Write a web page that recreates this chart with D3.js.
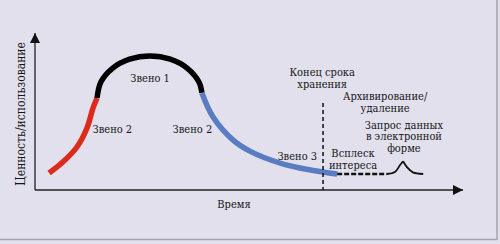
<!DOCTYPE html>
<html>
<head>
<meta charset="utf-8">
<script src="https://cdn.jsdelivr.net/npm/d3@7"></script>
<style>
  body { margin: 0; background: #fff; }
  text { font-family: "DejaVu Serif Condensed", "DejaVu Serif", serif; font-size: 11px; fill: #161616; }
</style>
</head>
<body>
<div id="chart"></div>
<script>
// Curve segments, time (0-100) vs value (0-100)
const growth = [[3.3, 10.8], [6.5, 17.8], [9.8, 27.4], [12.15, 39.5], [13.55, 52.2], [14.5, 58.6]];
const peak = [[14.5, 58.6], [15.4, 68.8], [18.1, 77.5], [22.1, 83.3], [26.9, 85.4], [31.6, 83.3], [35.6, 77.5], [38.3, 68.8], [39.0, 61.8]];
const decline = [[39.0, 61.8], [41.6, 46.5], [46.3, 31.8], [50.2, 24.8], [57.2, 17.2], [61.9, 14.0], [67.3, 11.5], [70.6, 10.2]];
const archive = [[70.6, 10.2], [82.2, 10.2]];
const spikeLeft = [[82.2, 10.2], [84.1, 11.5], [85.3, 15.9], [86.0, 18.3]];
const spikeRight = [[86.0, 18.3], [86.9, 14.6], [88.3, 11.2], [90.7, 10.2]];
const retentionEnd = 67.3;
const retentionTop = 55.4;

const labels = [
    { lines: ["Звено 1"], t: 26.9, v: 68.8 },
    { lines: ["Звено 2"], t: 22.7, v: 36.3, anchor: "end" },
    { lines: ["Звено 2"], t: 41.4, v: 36.3, anchor: "end" },
    { lines: ["Звено 3"], t: 65.9, v: 19.1, anchor: "end" },
    { lines: ["Конец срока", "хранения"], t: 67.1, v: 72.6 },
    { lines: ["Архивирование/", "удаление"], t: 81.8, v: 57.3 },
    { lines: ["Запрос данных", "в электронной", "форме"], t: 86.2, v: 38.9 },
    { lines: ["Всплеск", "интереса"], t: 74.3, v: 21.0 }
];

const W = 500, H = 244;
const margin = { top: 33, right: 37, bottom: 54, left: 35 },
    width = W - margin.left - margin.right,
    height = H - margin.top - margin.bottom;

const svg = d3.select("#chart")
    .append("svg")
    .attr("width", W)
    .attr("height", H);

// background panel with shadow edges
svg.append("rect")
    .attr("width", W).attr("height", H)
    .attr("fill", "#e1e0ec");
svg.append("line")
    .attr("x1", 0).attr("x2", 497).attr("y1", 239.5).attr("y2", 239.5)
    .attr("stroke", "#a5a4ad").attr("stroke-width", 1.5);
svg.append("line")
    .attr("x1", 497).attr("x2", 497).attr("y1", 0).attr("y2", 240)
    .attr("stroke", "#a5a4ad").attr("stroke-width", 1.5);

const g = svg.append("g")
    .attr("transform", "translate(" + margin.left + "," + margin.top + ")");

const x = d3.scaleLinear().domain([0, 100]).range([0, width]);
const y = d3.scaleLinear().domain([0, 100]).range([height, 0]);

// Axes with arrowheads
const defs = svg.append("defs");
defs.append("marker")
    .attr("id", "arrow")
    .attr("viewBox", "0 0 10 10")
    .attr("refX", 10).attr("refY", 5)
    .attr("markerWidth", 10).attr("markerHeight", 10)
    .attr("markerUnits", "userSpaceOnUse")
    .attr("orient", "auto")
    .append("path")
    .attr("d", "M0,0 L10,5 L0,10 Z")
    .attr("fill", "#111");

g.append("line")
    .attr("x1", 0).attr("y1", height).attr("x2", 0).attr("y2", 0)
    .attr("stroke", "#222").attr("stroke-width", 1.3)
    .attr("marker-end", "url(#arrow)");
g.append("line")
    .attr("x1", 0).attr("y1", height).attr("x2", width).attr("y2", height)
    .attr("stroke", "#222").attr("stroke-width", 1.3)
    .attr("marker-end", "url(#arrow)");

const line = d3.line()
    .x(d => x(d[0]))
    .y(d => y(d[1]))
    .curve(d3.curveCatmullRom);

// Colored life-cycle curve
const segs = [
    { data: growth, color: "#dc2a1b" },
    { data: peak, color: "#000" },
    { data: decline, color: "#5a7cc2" }
];
g.selectAll(".seg")
    .data(segs)
    .enter()
    .append("path")
    .attr("class", "seg")
    .attr("d", d => line(d.data))
    .attr("fill", "none")
    .attr("stroke", d => d.color)
    .attr("stroke-width", 5.5);

// End of retention marker
g.append("line")
    .attr("x1", x(retentionEnd)).attr("x2", x(retentionEnd))
    .attr("y1", y(retentionTop)).attr("y2", y(0))
    .attr("stroke", "#111").attr("stroke-width", 1.5)
    .attr("stroke-dasharray", "4,3");

// Archive dashed line and spike
g.append("path")
    .attr("d", d3.line().x(d => x(d[0])).y(d => y(d[1]))(archive))
    .attr("fill", "none")
    .attr("stroke", "#111").attr("stroke-width", 2.4)
    .attr("stroke-dasharray", "5,2");
[spikeLeft, spikeRight].forEach(s => {
    g.append("path")
        .attr("d", line(s))
        .attr("fill", "none")
        .attr("stroke", "#111").attr("stroke-width", 1.8);
});

// Annotations
const lh = 11.5;
labels.forEach(l => {
    const t = g.append("text")
        .attr("text-anchor", l.anchor || "middle")
        .attr("x", x(l.t))
        .attr("y", y(l.v));
    l.lines.forEach((s, i) => {
        t.append("tspan")
            .attr("x", x(l.t))
            .attr("dy", i === 0 ? 0 : lh)
            .text(s);
    });
});

// Axis titles
g.append("text")
    .attr("x", x(46.5)).attr("y", height + 18)
    .attr("text-anchor", "middle")
    .text("Время");
g.append("text")
    .attr("transform", "translate(-10," + (height * 0.515) + ") rotate(-90)")
    .attr("text-anchor", "middle")
    .style("font-size", "12px")
    .text("Ценность/использование");
</script>
</body>
</html>
